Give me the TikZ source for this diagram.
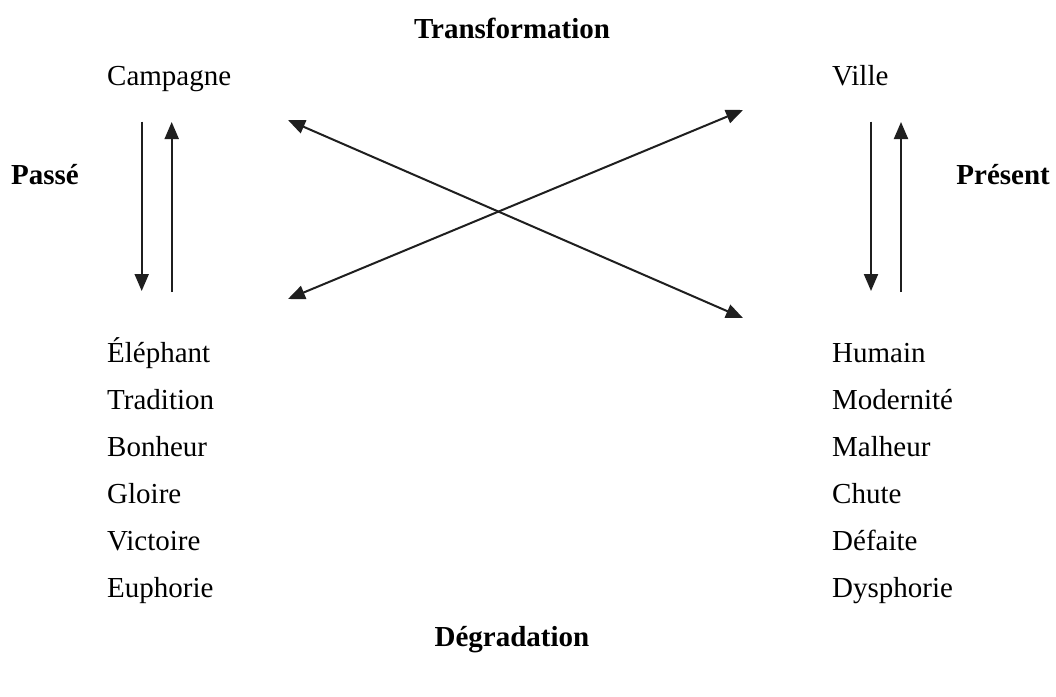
\documentclass[tikz,border=0pt]{standalone}
\usepackage{fontspec}
\setmainfont{Liberation Serif}
\usetikzlibrary{arrows.meta}
\begin{document}
\begin{tikzpicture}[x=1pt,y=-1pt,
  lbl/.style={inner sep=0pt,font=\fontsize{29}{35}\selectfont},
  ttl/.style={inner sep=0pt,font=\fontsize{29}{35}\selectfont\bfseries},
  arr/.style={line width=2pt,draw=black!88,-{Triangle[length=17pt,width=14pt]}},
  darr/.style={line width=2pt,draw=black!88,{Triangle[length=17pt,width=14pt]}-{Triangle[length=17pt,width=14pt]}}]
\useasboundingbox (0,0) rectangle (1056,696);
\fill[white] (0,0) rectangle (1056,696);
% titles
\node[ttl,anchor=base] (transf) at (512,38) {Transformation};
\node[ttl,anchor=base] (degr) at (512,646) {Dégradation};
\node[ttl,anchor=base west] (passe) at (11,184) {Passé};
\node[ttl,anchor=base east] (present) at (1050,184) {Présent};
% headers
\node[lbl,anchor=base west] (camp) at (107,85) {Campagne};
\node[lbl,anchor=base west] (ville) at (832,85) {Ville};
% lists
\foreach \t [count=\i from 0] in {Éléphant,Tradition,Bonheur,Gloire,Victoire,Euphorie}
  \node[lbl,anchor=base west] (L\i) at (107,362+47*\i) {\t};
\foreach \t [count=\i from 0] in {Humain,Modernité,Malheur,Chute,Défaite,Dysphorie}
  \node[lbl,anchor=base west] (R\i) at (832,362+47*\i) {\t};
% arrow end points
\coordinate (ldt) at (141.7,121.5);
\coordinate (ldb) at (141.7,291);
\coordinate (lub) at (171.7,292);
\coordinate (lut) at (171.7,122);
\coordinate (rdt) at (871,121.5);
\coordinate (rdb) at (871,291);
\coordinate (rub) at (901,292);
\coordinate (rut) at (901,122);
\coordinate (xul) at (288,120);
\coordinate (xlr) at (743,318);
\coordinate (xll) at (288,299);
\coordinate (xur) at (743,110);
\draw[arr] (ldt) -- (ldb);
\draw[arr] (lub) -- (lut);
\draw[arr] (rdt) -- (rdb);
\draw[arr] (rub) -- (rut);
\draw[darr] (xul) -- (xlr);
\draw[darr] (xll) -- (xur);
\end{tikzpicture}
\end{document}
